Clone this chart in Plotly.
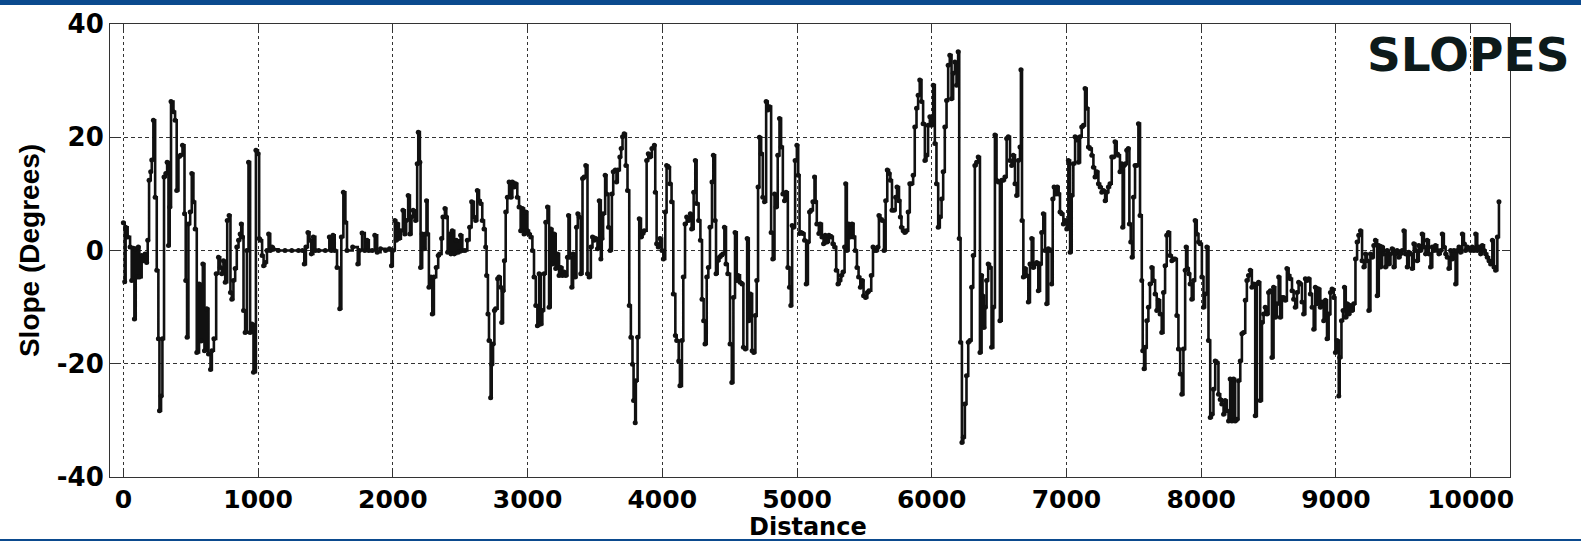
import plotly.graph_objects as go

# ---- data (distance, slope in degrees) ----
dist_a = [0,10,17,32,50,62,74,82,92,104,111,119,136,149,161,173,181,191,203,211,223,236,248,260,268,280,290,302,315,325,335,344,354,372,384,396,409,424,439,454,463,473,483,496,508,520,533,545,562,577,590,602,619,632,647,657,672,689,706,719,731,743,756,771,785,795,805,817,830,842,855,867,875,884,892,904,917,929,941,954,966,984,999,1008,1018,1030,1041,1053,1066,1078,1090,1103,1115,1150,1200,1250,1300,1330,1343,1355,1370,1382,1395,1410,1425,1450,1499,1529,1544,1556,1569,1586,1606,1618,1633,1648,1660,1702,1740,1752,1772,1792]
slope_a = [4.9,-5.5,4.1,2.4,0.6,-5.3,0.4,-12.1,0.3,-4.7,0.6,-4.7,-0.9,-1.8,-0.6,-2.1,1.8,12.4,13.9,16.0,23.0,9.4,-3.5,-15.6,-28.3,-25.7,-15.6,13.0,13.6,15.6,0.9,7.7,26.3,24.5,23.0,10.6,16.5,16.8,18.6,6.5,-5.3,-15.3,4.7,6.8,13.6,8.6,3.8,-18.0,-5.9,-16.0,-2.4,-17.7,-10.3,-18.3,-21.0,-17.7,-15.6,-4.1,-1.2,-3.0,-4.1,-1.8,-5.6,5.3,6.2,-7.4,-8.6,-5.3,-3.2,0.6,1.8,2.9,4.7,2.4,-10.6,-14.5,0.0,15.6,-14.5,-13.0,-21.5,17.7,17.1,2.1,1.8,-0.9,-2.7,-2.1,0.0,2.9,0.0,0.6,0.2,0,0,0,0,0,-2.4,0.6,3.2,1.8,-0.6,2.4,0.0,0.0,0.0,2.4,0.0,2.7,0.0,-3.0,-10.3,2.4,10.3,5.0,0.0,0.6,-2.4,0.0,3.1,0.0]

dist_b = [1809,1822,1847,1866,1884,1909,1946,1975,1990,2000,2015,2025,2035,2045,2060,2075,2089,2099,2114,2127,2139,2151,2169,2181,2189,2201,2206,2218,2231,2243,2250,2258,2268,2283,2293,2305,2322,2337,2347,2362,2372,2387,2397,2407,2421,2431,2441,2456,2471,2486,2503,2516,2535,2553,2570,2585,2602,2615,2627,2640,2652,2664,2677,2689,2696,2706,2714,2726,2734,2744,2754,2763,2778,2788,2801,2808,2818,2828,2838,2850,2863,2877,2887,2900,2912,2924,2937,2949,2962,2974,2986,2999,3011,3024,3036,3048,3061,3073,3086,3098,3110,3123,3135,3148,3160,3172,3185,3197,3209,3222,3234,3247,3259,3271,3284,3296,3304,3314,3328,3338,3353,3363,3373,3383,3395,3408,3420,3432,3445,3457,3470,3482,3494,3507,3519,3532,3544,3551,3561,3576,3586,3601,3613,3626,3636,3651,3660,3670,3685,3695,3705,3717,3730,3742,3755,3767,3779,3787,3799]
slope_b = [1.8,0,0,2.7,-0.3,0.3,0,0.3,-2.7,0,5.3,1.8,4.7,2.1,3.5,7.1,2.9,5.3,9.7,2.9,5.9,7.1,5.3,15.3,20.9,15.6,-3.0,2.9,0.3,2.9,8.8,2.9,-6.5,-4.7,-11.2,-4.7,-3.0,-0.9,-0.6,2.1,5.9,7.4,5.9,-0.3,2.9,-0.6,3.5,-0.6,1.8,-0.3,2.7,0,0,1.8,4.1,8.6,5.9,5.3,10.6,8.8,8.3,5.3,3.8,0.6,-4.4,-11.2,-15.9,-26.0,-20.1,-16.5,-10.6,-10.3,-5.0,-4.7,-6.5,-12.7,-7.1,-1.8,6.8,9.4,12.1,9.4,12.1,11.2,11.8,9.4,7.7,3.5,7.4,2.9,6.8,3.5,2.9,2.4,0,-4.7,-9.7,-13.3,-4.1,-13.0,-10.6,-4.1,5.0,7.7,-10.0,3.8,-2.4,2.9,-3.2,-0.6,-4.4,-3.0,-4.4,-3.8,-4.4,-1.2,6.2,-1.2,-6.5,-0.6,-4.7,4.1,6.5,5.9,-4.1,12.7,13.0,15.0,-4.1,-4.7,0.6,2.4,1.8,2.1,0.3,8.8,-1.5,2.1,6.5,13.3,10.0,4.1,0,10.0,13.9,14.2,12.1,14.2,16.5,18.0,20.1,20.6,15.0,10.6,-9.7,-15.3,-20.1,-26.5,-30.4]

dist_c = [3804,3817,3829,3842,3854,3866,3884,3896,3908,3923,3941,3948,3958,3970,3983,3998,4008,4022,4032,4047,4057,4069,4082,4097,4107,4122,4131,4146,4156,4169,4181,4196,4208,4218,4233,4245,4255,4270,4283,4295,4307,4317,4330,4342,4354,4369,4379,4392,4399,4411,4424,4436,4449,4461,4473,4486,4503,4516,4528,4540,4553,4563,4577,4592,4602,4617,4630,4642,4654,4667,4679,4691,4701,4711,4721,4734,4746,4758,4771,4783,4796,4808,4820,4833,4845,4857,4870,4882,4895,4907,4919,4932,4944,4954,4964,4974,4986,4999,5009,5019,5031,5043,5056,5068,5081,5093,5105,5118,5130,5138,5147,5162,5172,5185,5197,5209,5222,5237,5254,5266,5279,5291,5304,5316,5328,5341,5353,5361,5370,5383,5395,5408,5420,5432,5445,5457,5470,5484,5494,5509,5522,5534,5551,5564,5576,5589,5601,5608,5618,5633,5646,5658,5670,5683,5693,5705,5720,5732,5742,5757,5767]
slope_c = [-23,-15.3,5.6,2.4,3.0,3.5,15.9,17.1,16.5,18,18.6,10.3,1.2,0.6,2.1,0,-1.5,6.8,15,14.7,11.8,8.6,-7.7,-15,-15.9,-19.5,-23.9,-15.9,-4.7,4.7,5.9,5.3,6.5,3.8,10.3,15.9,8.3,5.3,1.8,-8.6,-12.4,-16.5,-4.7,-3.0,4.1,12.1,16.8,5.3,-4.1,-1.8,-1.2,-0.9,-0.6,4.1,-2.4,-4.1,-16.5,-23.3,-8.3,3.2,-5.3,-4.4,-5.6,-5.9,-17.1,-17.4,2.1,-12.4,-7.7,-17.7,-18,-11.5,-5.3,11.2,20,17.1,9.4,8.6,26.3,24.8,25.4,3.2,-1.5,10,7.7,16.8,23.3,18.3,10,8.8,10.3,-3,-6.5,-9.7,4.4,4.1,15.9,18.6,13.3,3.0,3.2,3.0,1.8,-5.9,1.5,6.8,7.1,8.6,13,8.6,4.7,3.0,4.7,2.4,1.2,2.7,1.5,2.7,2.4,1.2,0.6,-3.5,-5.9,-5.3,-4.4,-3.8,0.6,11.8,0,4.7,2.4,4.7,2.4,0,-3.0,-4.7,-6.5,-5.3,-8,-8.3,-7.4,-7.1,-4.4,0.6,0,0,0.6,6.2,5.6,5.3,0,8.8,14.2,13.6,12.4,7.1,7.1,9.4,11.2,8.8,5.9]

dist_d = [5775,5788,5800,5812,5825,5837,5850,5862,5874,5887,5899,5911,5924,5936,5949,5961,5973,5986,5998,6011,6023,6035,6048,6060,6073,6085,6097,6110,6122,6134,6147,6159,6172,6184,6196,6204,6214,6224,6234,6246,6258,6271,6283,6296,6308,6320,6333,6345,6358,6370,6377,6387,6397,6407,6419,6432,6444,6457,6469,6481,6494,6506,6519,6531,6543,6556,6568,6581,6593,6605,6618,6630,6642,6655,6662,6670,6680,6692,6704,6717,6729,6742,6754,6766,6779,6791,6804,6816,6828,6841,6853,6865,6878,6890,6898,6908,6922,6932,6942,6952,6965,6977,6989,7002,7014,7027,7039,7051,7064,7076,7089,7101,7113,7126,7138,7150,7163,7175,7188,7200,7212,7225,7237,7250,7262,7274,7287]
slope_d = [4.1,3.5,3.2,3.5,6.8,11.8,11.8,13.3,21.8,25.1,27.4,30.1,26.3,22.4,15.9,16.8,22.1,23.6,22.1,29.2,18.9,11.8,4.1,5.9,9.1,13.9,21.8,26.5,32.7,34.5,26.8,31.3,33.3,29.2,35.1,2.1,-16.2,-33.9,-33.0,-27.1,-22.1,-16.2,-15.9,-6.5,-0.9,15.0,15.6,16.5,-18.0,-4.4,-8.0,-13.6,-10.0,-5.3,-2.4,-3.0,-17.1,-10.0,20.4,12.4,12.1,-12.4,12.4,12.4,13.0,19.8,20.1,15.9,15.0,16.8,11.8,9.7,15.9,18.3,31.9,5.3,-4.7,-3.2,-4.4,-9.1,-2.4,2.1,-3.0,-2.4,-2.1,-7.1,-2.4,3.2,6.5,0,-9.4,0.3,0,-5.9,9.1,11.2,10.0,11.2,10.0,6.8,6.5,4.7,5.3,3.8,15.9,-0.3,9.7,15.3,20.1,19.5,15.6,20.1,21.8,22.1,28.6,25.1,18.3,18.0,16.8,14.7,13.0,13.9,11.8,11.2,10.3,10.6,8.8]

dist_e = [7298,7311,7323,7336,7348,7360,7373,7385,7397,7410,7417,7427,7437,7447,7459,7467,7477,7487,7497,7509,7521,7534,7546,7559,7566,7576,7586,7596,7608,7620,7633,7645,7658,7670,7682,7695,7707,7720,7732,7744,7757,7769,7782,7794,7806,7819,7831,7844,7856,7868,7881,7888,7898,7908,7918,7930,7943,7955,7967,7980,7992,8005,8017,8029,8042,8054,8067,8079,8091,8104,8116,8128,8141,8153,8166,8178,8190,8203,8215,8228,8240,8252,8265,8277,8290,8302,8314,8327,8339,8351,8364,8376,8389,8401,8413,8426,8438,8451,8463,8475,8488,8500,8513,8525,8537,8550,8562,8575,8587,8599,8612,8624,8636,8649,8661,8674,8686,8698,8711,8723,8736,8748,8760]
slope_e = [10.3,11.2,11.8,16.5,16.5,19.2,17.1,16.8,13.9,15.3,4.1,15.0,15.3,17.7,18.0,4.7,1.5,-1.2,9.4,15.0,15.0,22.4,6.2,-5.3,-17.7,-20.9,-17.1,-12.4,-10.0,-5.9,-3.0,-5.3,-7.7,-10.6,-8.8,-11.2,-14.5,-7.4,-2.7,2.7,3.2,-0.9,-1.8,-1.5,-1.5,-11.5,-17.4,-21.8,-25.4,-17.4,-3.5,0.6,-3.2,-4.1,-5.9,-8.6,-5.3,5.3,2.9,1.5,1.2,-4.7,-10.0,-7.7,0.6,-15.9,-29.5,-28.9,-24.5,-19.5,-19.8,-25.4,-26.3,-27.1,-28.9,-26.5,-28.3,-30.1,-22.7,-30.1,-22.7,-30.1,-29.8,-23.0,-19.5,-14.7,-14.5,-8.8,-5.3,-4.4,-3.5,-6.5,-5.9,-29.2,-5.9,-5.6,-26.5,-12.7,-11.2,-10.0,-11.2,-7.4,-7.1,-18.9,-6.5,-11.8,-9.4,-4.7,-11.8,-8.3,-8.3,-8.8,-3.2,-4.4,-5.0,-7.1,-8.6,-10.0,-7.4,-5.6,-5.9,-9.1,-11.2]

dist_f = [8773,8785,8798,8810,8823,8835,8847,8860,8872,8884,8897,8909,8922,8934,8946,8959,8971,8984,8996,9008,9021,9028,9041,9053,9063,9073,9083,9095,9107,9120,9132,9145,9157,9169,9182,9194,9207,9219,9231,9244,9256,9269,9281,9293,9306,9318,9331,9343,9355,9368,9380,9392,9405,9417,9430,9442,9454,9467,9479,9492,9504,9516,9529,9541,9554,9566,9578,9591,9603,9615,9628,9640,9653,9665,9677,9690,9702,9715,9727,9739,9752,9764,9777,9789,9801,9814,9826,9838,9851,9863,9876,9888,9900,9913,9925,9938,9950,9962,9975,9987,10000,10012,10024,10037,10049,10062,10074,10086,10099,10111,10123,10136,10148,10161,10173,10185,10198,10210]
slope_f = [-5.0,-5.3,-5.0,-7.7,-10.0,-13.9,-6.5,-9.4,-6.8,-10.0,-9.1,-12.4,-8.8,-15.6,-11.2,-7.4,-6.8,-8.3,-18.0,-15.9,-25.7,-18.9,-12.4,-10.6,-6.5,-11.8,-9.4,-11.2,-9.7,-10.6,-9.4,-1.5,1.5,2.7,3.5,-1.8,-2.9,-0.6,-1.8,-10.6,-0.6,-1.2,0.9,1.8,-8.0,0.9,-2.9,0.6,-0.6,-2.9,0,-2.4,-0.6,0.3,-2.9,-0.6,0,-1.2,-0.6,0,3.5,-0.6,-2.9,-0.3,-0.6,-3.2,1.2,0,-1.8,0.9,0,2.9,0.6,-0.6,1.8,-0.6,-2.9,0.6,0,0.9,0,-0.6,0,2.9,0.6,-0.6,-1.2,-3.2,0,-1.5,0,-5.9,0,0.6,-0.3,2.9,1.2,0,0.6,0.3,0,0.6,0,2.9,0,0.6,-0.6,0.9,0,-0.6,-1.2,-1.8,-2.4,1.8,-2.9,-3.5,2.4,8.6]

x_ticks = [0, 1000, 2000, 3000, 4000, 5000, 6000, 7000, 8000, 9000, 10000]
y_ticks = [-40, -20, 0, 20, 40]

distance, slope = [], []
for dx, sy in [(dist_a, slope_a), (dist_b, slope_b), (dist_c, slope_c),
               (dist_d, slope_d), (dist_e, slope_e), (dist_f, slope_f)]:
    n = min(len(dx), len(sy))
    distance += dx[:n]
    slope += sy[:n]

INK = "#111111"
AX = "#333333"
BLUE = "#0b4a8e"

fig = go.Figure()
fig.add_trace(go.Scatter(
    x=distance, y=slope, mode="lines+markers",
    line=dict(color=INK, width=2.6, shape="hv"),
    marker=dict(color=INK, size=5),
    showlegend=False, hoverinfo="skip"))

xtickfont = dict(family="DejaVu Sans", size=25, color="#000000", weight="bold")
ytickfont = dict(family="DejaVu Sans", size=26, color="#000000", weight="bold")

fig.update_layout(
    width=1581, height=541,
    margin=dict(l=110, r=71, t=24, b=64, autoexpand=False),
    paper_bgcolor="white", plot_bgcolor="white",
    xaxis=dict(
        range=[-99, 10292], tickvals=x_ticks, ticktext=[str(v) for v in x_ticks],
        ticks="inside", ticklen=8, tickcolor=AX, tickwidth=1, automargin=False,
        showline=True, linecolor=AX, linewidth=1, mirror="ticks",
        showgrid=True, gridcolor=AX, gridwidth=1, griddash="dot",
        zeroline=False, tickfont=xtickfont,
    ),
    yaxis=dict(
        range=[-40, 40], tickvals=y_ticks, ticktext=[str(v) for v in y_ticks],
        ticks="inside", ticklen=8, tickcolor=AX, tickwidth=1, automargin=False,
        showline=True, linecolor=AX, linewidth=1, mirror="ticks",
        showgrid=True, gridcolor=AX, gridwidth=1, griddash="4px,3px",
        zeroline=False, tickfont=ytickfont,
        title=dict(text="Slope (Degrees)", standoff=9,
                   font=dict(family="Liberation Sans", size=28, color="#000000", weight="bold")),
    ),
    shapes=[
        dict(type="rect", xref="paper", yref="paper", x0=-0.1, x1=1.1,
             y0=(477 - 5) / 453, y1=(477 + 2) / 453, fillcolor=BLUE, line=dict(width=0), layer="above"),
        dict(type="rect", xref="paper", yref="paper", x0=-0.1, x1=1.1,
             y0=(477 - 545) / 453, y1=(477 - 539) / 453, fillcolor=BLUE, line=dict(width=0), layer="above"),
    ],
    annotations=[
        dict(text="SLOPES", xref="paper", yref="paper", x=(1468 - 110) / 1400, y=(477 - 54) / 453,
             xanchor="center", yanchor="middle", showarrow=False,
             font=dict(family="DejaVu Sans", size=47, color="#0d1a1a", weight="bold")),
        dict(text="Distance", xref="paper", yref="paper", x=(808 - 110) / 1400, y=(477 - 511.5) / 453,
             xanchor="center", yanchor="top", showarrow=False, borderpad=0,
             font=dict(family="DejaVu Sans", size=24, color="#000000", weight="bold")),
    ],
)

fig.write_html("out.html")
